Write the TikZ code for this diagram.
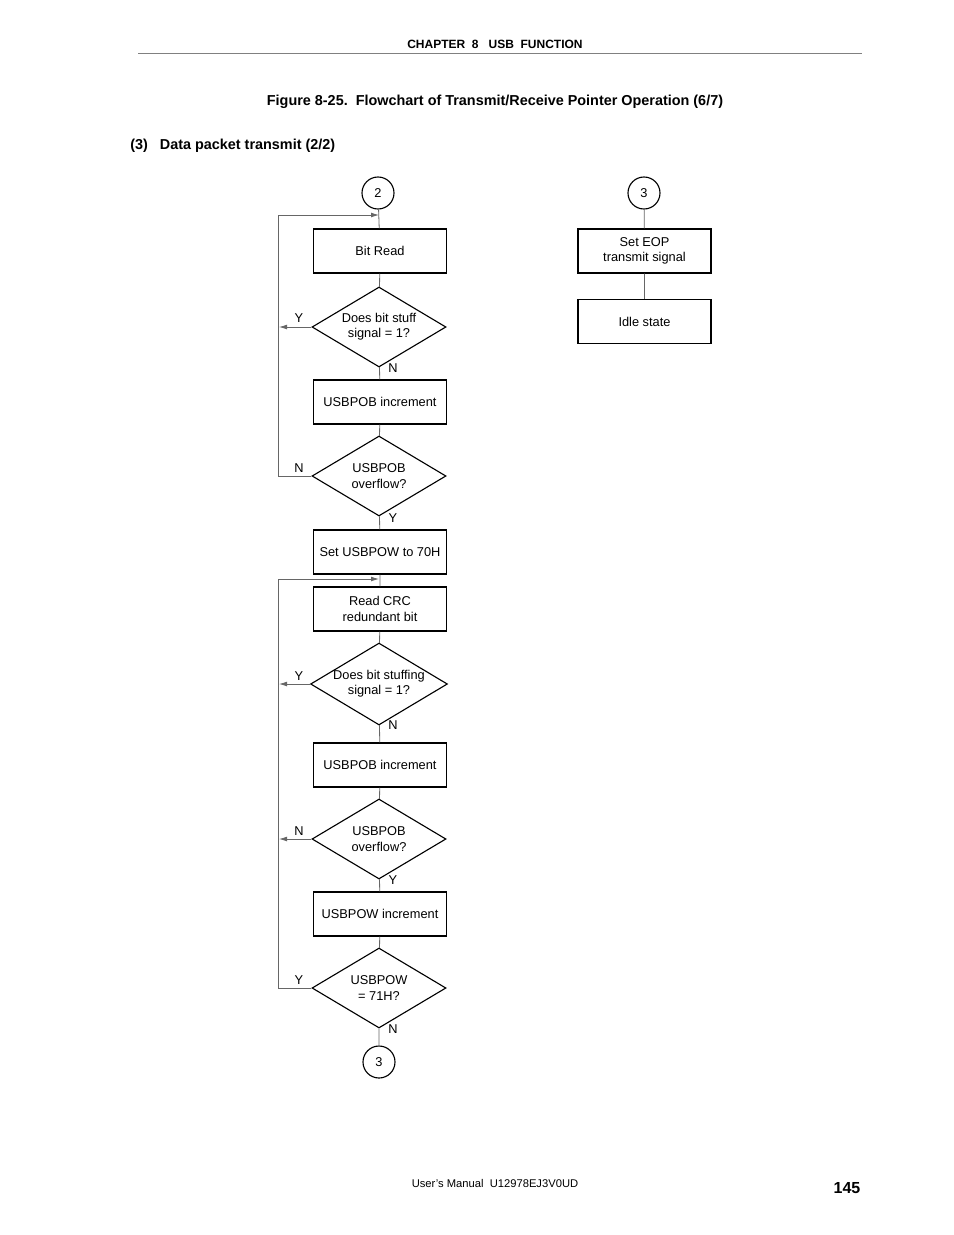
\documentclass[tikz,border=0pt]{standalone}
\usepackage{fontspec}
\setmainfont{Liberation Sans}
\usetikzlibrary{shapes.geometric,arrows.meta}
\begin{document}
\begin{tikzpicture}[x=0.625pt,y=-0.625pt,
  proc/.style={draw,line width=0.9pt,minimum width=83pt,minimum height=27.5pt,align=center,font=\fontsize{8}{9.5}\selectfont,inner sep=1pt},
  dec/.style={draw,diamond,line width=0.7pt,minimum width=83.75pt,minimum height=50pt,aspect=1.67,align=center,font=\fontsize{8}{9.5}\selectfont,inner sep=0pt},
  conn/.style={draw,circle,line width=0.7pt,minimum size=20pt,inner sep=0pt,font=\fontsize{8}{9}\selectfont},
  line/.style={draw=black!60,line width=0.5pt},
  arr/.style={line,-{Latex[length=5pt,width=3pt]}},
  lab/.style={font=\fontsize{8}{9}\selectfont,inner sep=1pt}]
\useasboundingbox (0,0) rectangle (954,1235);
\node[font=\bfseries\fontsize{7.5}{9}\selectfont] (hdr) at (495,44) {CHAPTER\ \ 8\ \ \ USB\ \ FUNCTION};
\draw[black!50,line width=0.4pt] (138,53) -- (862,53);
\node[font=\bfseries\fontsize{9}{11}\selectfont] (ttl) at (495,102) {Figure 8-25.\ \ Flowchart of Transmit/Receive Pointer Operation (6/7)};
\node[font=\bfseries\fontsize{9}{11}\selectfont,anchor=west,inner sep=0pt] (sub) at (130,146) {(3)\ \ \ Data packet transmit (2/2)};

\node[conn] (c2) at (378,193) {2};
\node[proc] (br) at (380,251) {Bit Read};
\node[dec] (d1) at (379,327) {Does bit stuff\\signal = 1?};
\node[proc] (inc1) at (380,402) {USBPOB increment};
\node[dec] (d2) at (379,476) {USBPOB\\overflow?};
\node[proc] (set) at (380,552) {Set USBPOW to 70H};
\node[proc] (crc) at (380,609) {Read CRC\\redundant bit};
\node[dec] (d3) at (379,684) {Does bit stuffing\\signal = 1?};
\node[proc] (inc2) at (380,765) {USBPOB increment};
\node[dec] (d4) at (379,839) {USBPOB\\overflow?};
\node[proc] (inc3) at (380,914) {USBPOW increment};
\node[dec] (d5) at (379,988) {USBPOW\\= 71H?};
\node[conn] (c3) at (379,1062) {3};

\node[conn] (r3) at (644,193) {3};
\node[proc] (eop) at (644.5,251) {Set EOP\\transmit signal};
\node[proc] (idle) at (644.5,321.5) {Idle state};

\coordinate (j1) at (379,215);
\coordinate (j2) at (379,579);
\path[line] (c2) -- (br) (br) -- (d1) (d1) -- (inc1) (inc1) -- (d2) (d2) -- (set)
  (set) -- (crc) (crc) -- (d3) (d3) -- (inc2) (inc2) -- (d4) (d4) -- (inc3) (inc3) -- (d5) (d5) -- (c3)
  (r3) -- (eop) (eop) -- (idle);
\draw[arr] (d2.west) -- (278,476) -- (278,215) -- (j1);
\draw[arr] (d5.west) -- (278,988) -- (278,579) -- (j2);
\coordinate (l1) at (279,327);
\coordinate (l3) at (279,684);
\coordinate (l4) at (279,839);
\draw[arr] (d1.west) -- (l1);
\draw[arr] (d3.west) -- (l3);
\draw[arr] (d4.west) -- (l4);

\node[lab] (y1) at (299,318) {Y};
\node[lab] (n1) at (393,368) {N};
\node[lab] (n2) at (299,468) {N};
\node[lab] (y2) at (393,518) {Y};
\node[lab] (y3) at (299,676) {Y};
\node[lab] (n3) at (393,725) {N};
\node[lab] (n4) at (299,831) {N};
\node[lab] (y4) at (393,880) {Y};
\node[lab] (y5) at (299,980) {Y};
\node[lab] (n5) at (393,1029) {N};

\node[font=\fontsize{7}{8}\selectfont] (ft) at (495,1183) {User's Manual\ \ U12978EJ3V0UD};
\node[font=\bfseries\fontsize{10}{11}\selectfont] (pg) at (847,1188) {145};
\end{tikzpicture}
\end{document}
